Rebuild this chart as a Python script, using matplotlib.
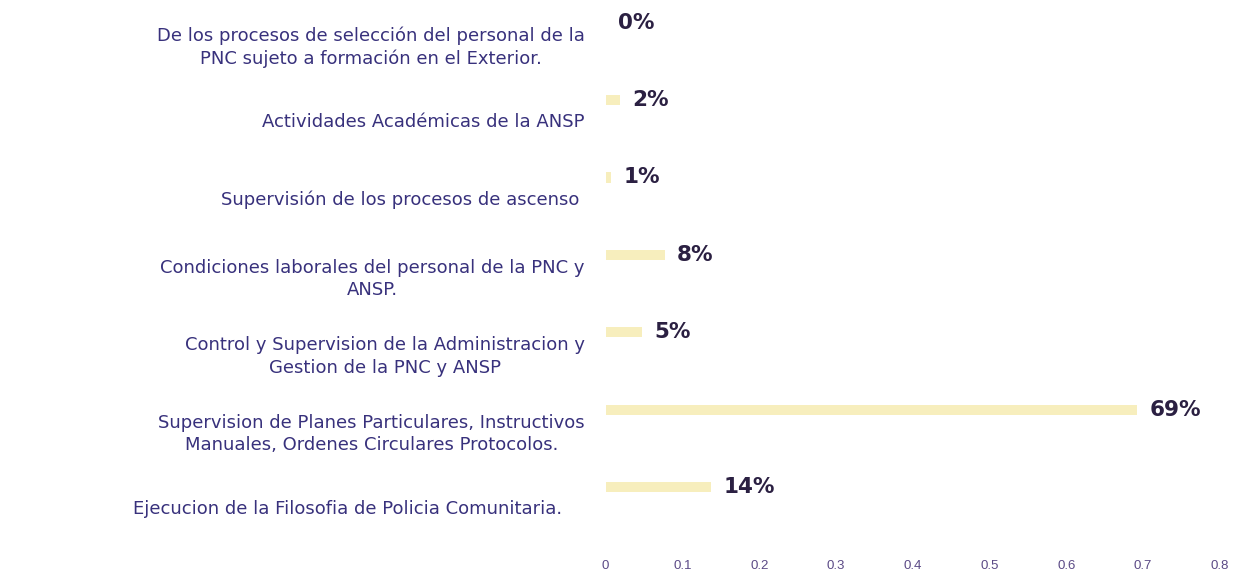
import numpy as np
import matplotlib.pyplot as plt

# categories from top to bottom
categories = ["De los procesos de selección del personal de la\nPNC sujeto a formación en el Exterior.",
              "Actividades Académicas de la ANSP",
              "Supervisión de los procesos de ascenso ",
              "Condiciones laborales del personal de la PNC y\nANSP.",
              "Control y Supervision de la Administracion y\nGestion de la PNC y ANSP",
              "Supervision de Planes Particulares, Instructivos\nManuales, Ordenes Circulares Protocolos.",
              "Ejecucion de la Filosofia de Policia Comunitaria.    "]
values = [0.0, 0.019, 0.007, 0.077, 0.047, 0.692, 0.137]
xticks = [0, 0.1, 0.2, 0.3, 0.4, 0.5, 0.6, 0.7, 0.8]

label_col = "#38317c"
value_col = "#2b2042"
tick_col = "#5b4a86"
bar_col = "#f7eebd"

fig = plt.figure(figsize=(12.36, 5.70), dpi=100)
ax = fig.add_axes([0.490, 0.0426, 0.497, 0.950])

y = np.arange(len(categories))
bar_y = y - 0.26                                                    # bars sit above the category centre
ax.barh(bar_y, values, height=0.13, color=bar_col, edgecolor="none")

for yy, v in zip(bar_y, values):
    ax.text(v + 0.016, yy, "{:.0%}".format(v), ha="left", va="center",
            fontsize=15.5, fontweight="bold", color=value_col, family="DejaVu Sans")

ax.set_ylim(len(categories) - 0.5, -0.5)
ax.set_xlim(0, 0.8)
ax.set_yticks(y)
ax.set_yticklabels(categories, fontsize=13, color=label_col, family="DejaVu Sans",
                   multialignment="center", linespacing=1.3)
ax.set_xticks(xticks)
ax.set_xticklabels([("%g" % t) for t in xticks], fontsize=9.5, color=tick_col, family="Liberation Sans")
ax.tick_params(axis="y", length=0, pad=15)
ax.tick_params(axis="x", length=0, pad=10)
for s in ax.spines.values():
    s.set_visible(False)

plt.savefig("out.png", dpi=100)
